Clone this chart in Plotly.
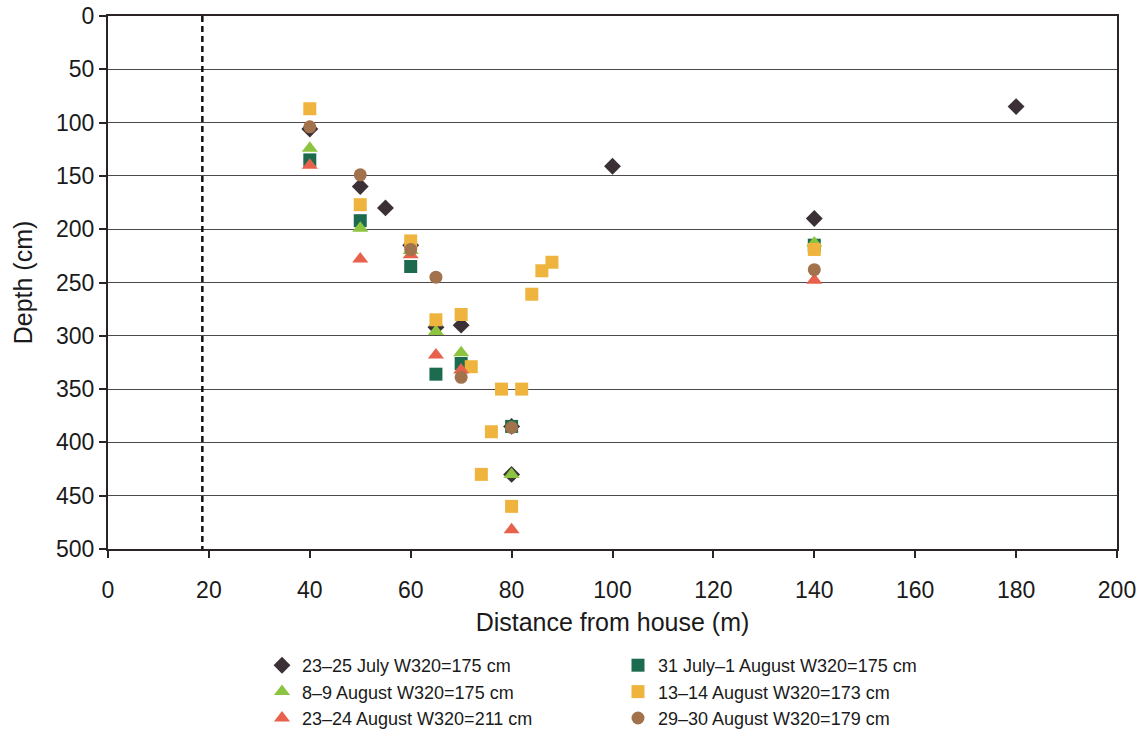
import plotly.graph_objects as go

# Distance from house (m) and depth (cm) for each survey period
july_23_25_x = [40, 50, 55, 60, 65, 70, 80, 80, 100, 140, 180]
july_23_25_y = [106, 160, 180, 215, 292, 290, 385, 430, 141, 190, 85]

jul31_aug1_x = [40, 50, 60, 65, 70, 80, 140]
jul31_aug1_y = [135, 192, 235, 336, 326, 385, 215]

aug_8_9_x = [40, 50, 60, 65, 70, 80, 140]
aug_8_9_y = [124, 199, 220, 296, 316, 430, 213]

aug_13_14_x = [40, 50, 60, 65, 70, 72, 78, 82, 76, 74, 80, 84, 86, 88, 140]
aug_13_14_y = [87, 177, 211, 285, 280, 329, 350, 350, 390, 430, 460, 261, 239, 231, 219]

aug_23_24_x = [40, 50, 60, 65, 70, 80, 140]
aug_23_24_y = [140, 228, 224, 318, 332, 482, 248]

aug_29_30_x = [40, 50, 60, 65, 70, 80, 140]
aug_29_30_y = [104, 149, 219, 245, 339, 386, 238]

series = [
    ("23\u201325 July W320=175 cm", july_23_25_x, july_23_25_y, "diamond", "#3b3036", 13, "legend"),
    ("31 July\u20131 August W320=175 cm", jul31_aug1_x, jul31_aug1_y, "square", "#1d6b4e", 13, "legend2"),
    ("8\u20139 August W320=175 cm", aug_8_9_x, aug_8_9_y, "triangle-up", "#8dc43f", 14, "legend"),
    ("13\u201314 August W320=173 cm", aug_13_14_x, aug_13_14_y, "square", "#efb43e", 13, "legend2"),
    ("23\u201324 August W320=211 cm", aug_23_24_x, aug_23_24_y, "triangle-up", "#e8614d", 14, "legend"),
    ("29\u201330 August W320=179 cm", aug_29_30_x, aug_29_30_y, "circle", "#a2724c", 13, "legend2"),
]

house_limit = 18.7

fig = go.Figure()

# Dashed vertical reference line
fig.add_trace(go.Scatter(
    x=[house_limit, house_limit], y=[0, 500], mode="lines",
    line=dict(color="#111111", width=2.5, dash="6px,4px"),
    showlegend=False, hoverinfo="skip",
))

for name, xs, ys, sym, col, size, leg in series:
    fig.add_trace(go.Scatter(
        x=xs, y=ys, mode="markers", name=name, legend=leg,
        marker=dict(symbol=sym, color=col, size=size, line=dict(width=0)),
    ))

W, H = 1145, 733
ML, MR, MT, MB = 108, 28, 16, 184
PW, PH = W - ML - MR, H - MT - MB
font = "Liberation Sans, Arial, sans-serif"


def px_x(p):
    return (p - ML) / PW


def px_y(p):
    return 1 - (p - MT) / PH


fig.update_layout(
    width=W, height=H,
    margin=dict(l=ML, r=MR, t=MT, b=MB, autoexpand=False),
    paper_bgcolor="white", plot_bgcolor="white",
    font=dict(family=font, color="#1a1a1a", size=22),
    xaxis=dict(
        range=[0, 200], dtick=20, tick0=0,
        showgrid=False, zeroline=False,
        showline=True, linecolor="#2b2426", linewidth=2, mirror=True,
        ticks="outside", ticklen=7, tickcolor="#2b2426", tickwidth=1.5,
        tickfont=dict(size=23), ticklabelstandoff=12,
        title=dict(text="Distance from house (m)", font=dict(size=25), standoff=12),
    ),
    yaxis=dict(
        range=[500, 0], dtick=50, tick0=0,
        showgrid=True, gridcolor="#4a4a4a", gridwidth=1,
        zeroline=False,
        showline=True, linecolor="#2b2426", linewidth=2, mirror=True,
        ticks="outside", ticklen=7, tickcolor="#2b2426", tickwidth=1.5,
        tickfont=dict(size=23),
        title=dict(text="Depth (cm)", font=dict(size=25), standoff=16),
    ),
    legend=dict(
        x=px_x(262), y=px_y(647), xanchor="left", yanchor="top",
        font=dict(size=18), bgcolor="rgba(0,0,0,0)", tracegroupgap=0,
    ),
    legend2=dict(
        x=px_x(618), y=px_y(647), xanchor="left", yanchor="top",
        font=dict(size=18), bgcolor="rgba(0,0,0,0)", tracegroupgap=0,
    ),
)

fig.write_html("out.html")
